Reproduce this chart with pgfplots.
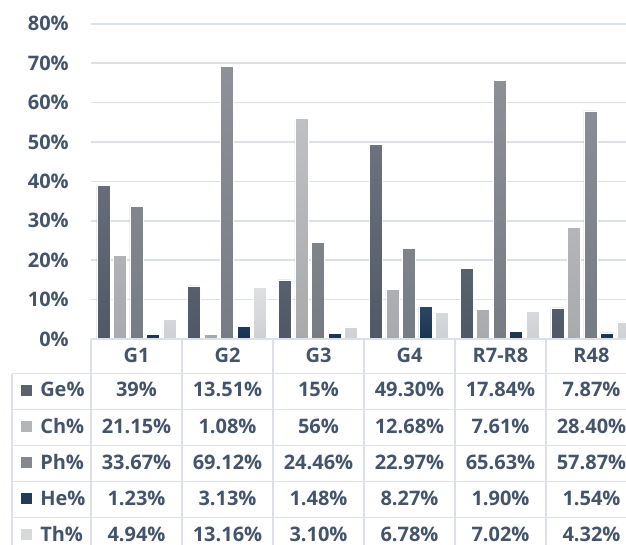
\documentclass[border=0pt]{standalone}
\usepackage{fontspec}
\setmainfont{Open Sans}
\usepackage{pgfplots}
\pgfplotsset{compat=1.18}
\definecolor{txt}{HTML}{44546A}
\definecolor{gridc}{HTML}{DCE0E7}
\definecolor{geT}{HTML}{6D737D}
\definecolor{geB}{HTML}{4F5865}
\definecolor{geM}{HTML}{5B626E}
\definecolor{chT}{HTML}{BEC0C3}
\definecolor{chB}{HTML}{A8AAAE}
\definecolor{chM}{HTML}{B3B5B8}
\definecolor{phT}{HTML}{8E9197}
\definecolor{phB}{HTML}{777B83}
\definecolor{phM}{HTML}{84878E}
\definecolor{heT}{HTML}{2B4664}
\definecolor{heB}{HTML}{1B3350}
\definecolor{heM}{HTML}{213B58}
\definecolor{thT}{HTML}{DFE0E2}
\definecolor{thB}{HTML}{CFD0D3}
\definecolor{thM}{HTML}{D7D8DA}
\newcommand{\tf}{\fontsize{15}{18}\selectfont\bfseries\color{txt}}
\begin{document}
\begin{tikzpicture}[x=0.75pt,y=0.75pt]
\begin{axis}[
  at={(68.25pt,153.75pt)}, anchor=south west,
  x=68.1pt, y=2.955pt,
  xmin=0, xmax=6, ymin=0, ymax=80,
  axis line style={draw=none},
  xtick=\empty,
  ytick={0,10,...,80},
  major tick length=0pt,
  ymajorgrids,
  grid style={draw=gridc, line width=1.1pt},
  /pgf/number format/assume math mode=true,
  yticklabel={\pgfmathprintnumber{\tick}\%},
  yticklabel style={font=\fontsize{15}{18}\selectfont\bfseries, text=txt, anchor=east, inner sep=0pt, xshift=-16.5pt},
  every axis plot/.append style={ybar, bar width=9.75pt, draw=white, line width=0.4pt},
]
\addplot[bar shift=-24.75pt, top color=geT, bottom color=geB] coordinates {(0.5,39) (1.5,13.51) (2.5,15) (3.5,49.30) (4.5,17.84) (5.5,7.87)};
\addplot[bar shift=-12.375pt, top color=chT, bottom color=chB] coordinates {(0.5,21.15) (1.5,1.08) (2.5,56) (3.5,12.68) (4.5,7.61) (5.5,28.40)};
\addplot[bar shift=0pt, top color=phT, bottom color=phB] coordinates {(0.5,33.67) (1.5,69.12) (2.5,24.46) (3.5,22.97) (4.5,65.63) (5.5,57.87)};
\addplot[bar shift=12.375pt, top color=heT, bottom color=heB] coordinates {(0.5,1.23) (1.5,3.13) (2.5,1.48) (3.5,8.27) (4.5,1.90) (5.5,1.54)};
\addplot[bar shift=24.75pt, top color=thT, bottom color=thB] coordinates {(0.5,4.94) (1.5,13.16) (2.5,3.10) (3.5,6.78) (4.5,7.02) (5.5,4.32)};
\end{axis}
% table grid
\begin{scope}[draw=gridc, line width=1.1pt]
\draw (91,205) -- (640,205);
\foreach \yy in {170.5,134.5,98.5,62.5,26.5} \draw (12,\yy) -- (640,\yy);
\foreach \xx in {91,182,273,364,455,546} \draw (\xx,205) -- (\xx,-20);
\draw (12,170.5) -- (12,-20);
\end{scope}
% header
\foreach \n [count=\i from 0] in {G1,G2,G3,G4,R7-R8,R48}
  \node[anchor=base, inner sep=0pt] at (136.5+91*\i, 181) {\tf \n};
% rows
\foreach \lab/\col/\yc/\a/\b/\c/\d/\e/\f in {
  Ge\%/geM/154/39\%/13.51\%/15\%/49.30\%/17.84\%/7.87\%,
  Ch\%/chM/118/21.15\%/1.08\%/56\%/12.68\%/7.61\%/28.40\%,
  Ph\%/phM/82/33.67\%/69.12\%/24.46\%/22.97\%/65.63\%/57.87\%,
  He\%/heM/46/1.23\%/3.13\%/1.48\%/8.27\%/1.90\%/1.54\%,
  Th\%/thM/10/4.94\%/13.16\%/3.10\%/6.78\%/7.02\%/4.32\%}
{
  \fill[\col] (21,\yc-5.5) rectangle (32,\yc+5.5);
  \node[anchor=base west, inner sep=0pt] at (40,\yc-7) {\tf \lab};
  \node[anchor=base, inner sep=0pt] at (136.5,\yc-7) {\tf \a};
  \node[anchor=base, inner sep=0pt] at (227.5,\yc-7) {\tf \b};
  \node[anchor=base, inner sep=0pt] at (318.5,\yc-7) {\tf \c};
  \node[anchor=base, inner sep=0pt] at (409.5,\yc-7) {\tf \d};
  \node[anchor=base, inner sep=0pt] at (500.5,\yc-7) {\tf \e};
  \node[anchor=base, inner sep=0pt] at (591.5,\yc-7) {\tf \f};
}
\pgfresetboundingbox
\path[use as bounding box] (0,0) rectangle (626,544);
\end{tikzpicture}
\end{document}
